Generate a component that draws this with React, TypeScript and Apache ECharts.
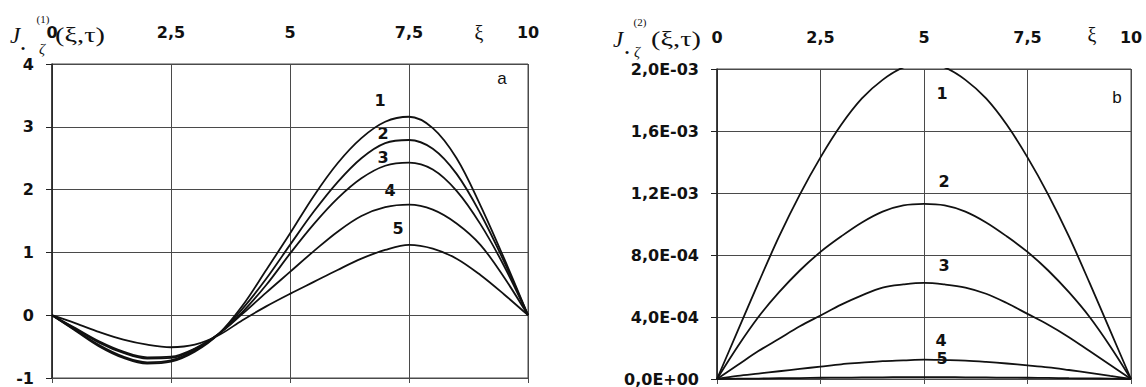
import React, { useEffect, useRef } from "react";
import * as echarts from "echarts";

// Dimensionless coordinate ξ at which both families of curves are tabulated
const XI = [0, 0.5, 1, 1.5, 2, 2.5, 3, 3.5, 4, 4.5, 5, 5.5, 6, 6.5, 7, 7.5, 8, 8.5, 9, 9.5, 10];

// Panel a: J(1)(ξ,τ) for five moments of time
const J1_CURVE1 = [0, -0.25, -0.5, -0.68, -0.77, -0.74, -0.58, -0.3, 0.15, 0.72, 1.3, 1.9, 2.42, 2.82, 3.08, 3.16, 2.98, 2.5, 1.75, 0.9, 0];
const J1_CURVE2 = [0, -0.24, -0.48, -0.66, -0.75, -0.72, -0.56, -0.3, 0.1, 0.58, 1.12, 1.65, 2.12, 2.5, 2.74, 2.79, 2.65, 2.25, 1.62, 0.85, 0];
const J1_CURVE3 = [0, -0.22, -0.44, -0.6, -0.69, -0.68, -0.54, -0.3, 0.05, 0.48, 0.98, 1.45, 1.86, 2.18, 2.38, 2.43, 2.32, 1.98, 1.45, 0.78, 0];
const J1_CURVE4 = [0, -0.21, -0.42, -0.58, -0.67, -0.66, -0.53, -0.3, 0.02, 0.36, 0.69, 1.02, 1.33, 1.58, 1.72, 1.76, 1.68, 1.46, 1.12, 0.6, 0];
const J1_CURVE5 = [0, -0.13, -0.27, -0.39, -0.47, -0.51, -0.47, -0.32, -0.08, 0.14, 0.34, 0.53, 0.72, 0.9, 1.04, 1.12, 1.06, 0.9, 0.64, 0.33, 0];

// Panel b: J(2)(ξ,τ) for the same moments of time
const J2_CURVE1 = [0, 3.1e-4, 6.2e-4, 9.2e-4, 1.19e-3, 1.43e-3, 1.64e-3, 1.81e-3, 1.93e-3, 2.01e-3, 2.04e-3, 2.01e-3, 1.93e-3, 1.81e-3, 1.64e-3, 1.43e-3, 1.19e-3, 9.2e-4, 6.2e-4, 3.1e-4, 0];
const J2_CURVE2 = [0, 2.1e-4, 4.0e-4, 5.6e-4, 7.0e-4, 8.2e-4, 9.2e-4, 1.01e-3, 1.08e-3, 1.12e-3, 1.13e-3, 1.12e-3, 1.08e-3, 1.01e-3, 9.2e-4, 8.2e-4, 7.0e-4, 5.6e-4, 4.0e-4, 2.1e-4, 0];
const J2_CURVE3 = [0, 9e-5, 1.8e-4, 2.6e-4, 3.4e-4, 4.1e-4, 4.8e-4, 5.4e-4, 5.9e-4, 6.1e-4, 6.2e-4, 6.1e-4, 5.9e-4, 5.5e-4, 4.9e-4, 4.2e-4, 3.5e-4, 2.7e-4, 1.8e-4, 9e-5, 0];
const J2_CURVE4 = [0, 2.0e-5, 3.5e-5, 5.0e-5, 6.5e-5, 8.0e-5, 9.5e-5, 1.05e-4, 1.15e-4, 1.2e-4, 1.25e-4, 1.22e-4, 1.18e-4, 1.1e-4, 1.0e-4, 8.8e-5, 7.5e-5, 5.8e-5, 4.0e-5, 2.0e-5, 0];
const J2_CURVE5 = [0, 2e-6, 3e-6, 5e-6, 6e-6, 8e-6, 9e-6, 1.0e-5, 1.1e-5, 1.2e-5, 1.2e-5, 1.2e-5, 1.1e-5, 1.0e-5, 9e-6, 8e-6, 7e-6, 5e-6, 4e-6, 2e-6, 0];

const CURVE_NAMES = ["1", "2", "3", "4", "5"];
const J1_SERIES = [J1_CURVE1, J1_CURVE2, J1_CURVE3, J1_CURVE4, J1_CURVE5];
const J2_SERIES = [J2_CURVE1, J2_CURVE2, J2_CURVE3, J2_CURVE4, J2_CURVE5];

const INK = "#111";
const GRID_LINE = "#4a4a4a";
const TICK_FONT = { fontFamily: "DejaVu Sans", fontWeight: "bold" as const, fontSize: 16, color: INK };

const commaNum = (v: number) => String(v).replace(".", ",");

const sciComma = (v: number) => {
  if (Math.abs(v) < 1e-12) return "0,0E+00";
  const e = Math.floor(Math.log10(Math.abs(v)) + 1e-9);
  const m = v / Math.pow(10, e);
  const sign = e < 0 ? "-" : "+";
  const ex = String(Math.abs(e)).padStart(2, "0");
  return m.toFixed(1).replace(".", ",") + "E" + sign + ex;
};

const txt = (text: string, x: number, y: number, font: string, align = "center", scaleX = 1) => ({
  type: "text",
  x,
  y,
  scaleX,
  silent: true,
  style: { text, font, fill: INK, align, verticalAlign: "middle" },
});

export default function App() {
  const ref = useRef<HTMLDivElement>(null);

  useEffect(() => {
    if (!ref.current) return;
    const chart = echarts.init(ref.current, undefined, { renderer: "svg" });

    const grids = [
      { left: 52, top: 64, width: 476, height: 314 },
      { left: 717, top: 69, width: 414, height: 311 },
    ];

    const xTop = (gridIndex: number) => ({
      type: "value",
      gridIndex,
      position: "top",
      min: 0,
      max: 10,
      interval: 2.5,
      axisLine: { show: true, lineStyle: { color: GRID_LINE, width: 1 } },
      axisTick: { show: false },
      axisLabel: { ...TICK_FONT, margin: 24, formatter: commaNum },
      splitLine: { show: true, lineStyle: { color: GRID_LINE, width: 1 } },
    });
    const xBottom = (gridIndex: number) => ({
      type: "value",
      gridIndex,
      position: "bottom",
      min: 0,
      max: 10,
      interval: 2.5,
      axisLine: { show: true, lineStyle: { color: GRID_LINE, width: 1 } },
      axisTick: { show: true, length: 5, lineStyle: { color: GRID_LINE } },
      axisLabel: { show: false },
      splitLine: { show: false },
    });
    const yAxis = (gridIndex: number, min: number, max: number, interval: number, fmt: (v: number) => string) => ({
      type: "value",
      gridIndex,
      min,
      max,
      interval,
      axisLine: { show: true, onZero: false, lineStyle: { color: "#222", width: 1.5 } },
      axisTick: { show: true, length: 6, lineStyle: { color: "#222" } },
      axisLabel: { ...TICK_FONT, margin: 18, formatter: fmt },
      splitLine: { show: true, lineStyle: { color: GRID_LINE, width: 1 } },
    });

    const lineSeries = (values: number[], name: string, xAxisIndex: number, yAxisIndex: number) => ({
      type: "line",
      name,
      xAxisIndex,
      yAxisIndex,
      data: XI.map((x, i) => [x, values[i]]),
      showSymbol: false,
      smooth: 0.35,
      clip: true,
      lineStyle: { color: INK, width: 1.8 },
      silent: true,
    });

    const serif = "Liberation Serif";
    const labelFont = "bold 16px DejaVu Sans";

    chart.setOption({
      animation: false,
      backgroundColor: "#fff",
      grid: grids.map((g) => ({ ...g, show: true, borderColor: GRID_LINE, borderWidth: 1, backgroundColor: "transparent" })),
      xAxis: [xTop(0), xBottom(0), xTop(1), xBottom(1)],
      yAxis: [
        yAxis(0, -1, 4, 1, (v: number) => String(v)),
        yAxis(1, 0, 0.002, 0.0004, sciComma),
      ],
      series: [
        ...J1_SERIES.map((s, i) => lineSeries(s, "a" + CURVE_NAMES[i], 0, 0)),
        ...J2_SERIES.map((s, i) => lineSeries(s, "b" + CURVE_NAMES[i], 2, 1)),
      ],
      graphic: [
        // ordinate title, panel a
        txt("J", 15, 35, `italic 23px ${serif}`),
        txt("•", 23, 48, `13px ${serif}`),
        txt("ζ", 42, 49, `italic 15px ${serif}`),
        txt("(1)", 43, 19, `11px ${serif}`),
        txt("(ξ,τ)", 55, 35, `21px ${serif}`, "left", 1.35),
        txt("ξ", 479, 33, `20px ${serif}`),
        // ordinate title, panel b
        txt("J", 618, 39, `italic 23px ${serif}`),
        txt("•", 627, 52, `13px ${serif}`),
        txt("ζ", 637, 52, `italic 15px ${serif}`),
        txt("(2)", 640, 22, `11px ${serif}`),
        txt("(ξ,τ)", 651, 39, `21px ${serif}`, "left", 1.35),
        txt("ξ", 1092, 35, `20px ${serif}`),
        // panel letters
        txt("a", 502, 78, "17px Liberation Sans"),
        txt("b", 1117, 97, "17px Liberation Sans"),
        // curve numbers, panel a
        txt("1", 380, 100, labelFont),
        txt("2", 383, 133, labelFont),
        txt("3", 383, 157, labelFont),
        txt("4", 390, 190, labelFont),
        txt("5", 398, 228, labelFont),
        // curve numbers, panel b
        txt("1", 942, 93, labelFont),
        txt("2", 944, 181, labelFont),
        txt("3", 944, 265, labelFont),
        txt("4", 941, 340, labelFont),
        txt("5", 942, 358, labelFont),
      ],
    });

    return () => chart.dispose();
  }, []);

  return <div ref={ref} style={{ position: "fixed", left: 0, top: 0, width: 1146, height: 387 }} />;
}
